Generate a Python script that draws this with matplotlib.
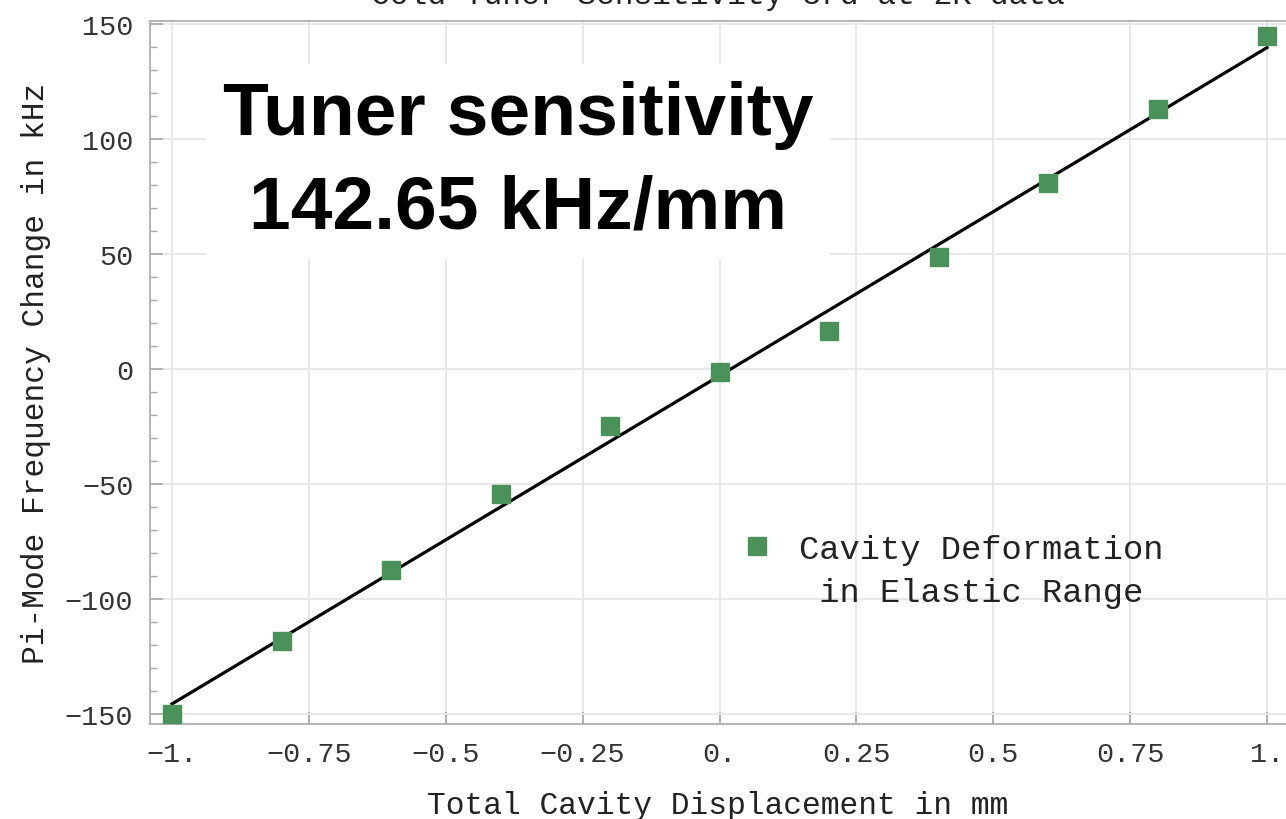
import numpy as np
import matplotlib
matplotlib.use("Agg")
import matplotlib.pyplot as plt
from matplotlib.lines import Line2D
from matplotlib.ticker import MultipleLocator, FixedLocator

# Data
displacement_mm = [-1.0, -0.8, -0.6, -0.4, -0.2, 0.0, 0.2, 0.4, 0.6, 0.8, 1.0]
freq_change_khz = [-150.0, -118.3, -87.4, -54.3, -24.8, -1.2, 16.5, 48.7, 80.9, 113.0, 144.8]

sensitivity_khz_per_mm = 142.65
x_ticks = [-1.0, -0.75, -0.5, -0.25, 0.0, 0.25, 0.5, 0.75, 1.0]
x_tick_labels = ["\u22121.", "\u22120.75", "\u22120.5", "\u22120.25", "0.", "0.25", "0.5", "0.75", "1."]
y_ticks = [-150, -100, -50, 0, 50, 100, 150]
y_tick_labels = ["\u2212150", "\u2212100", "\u221250", "0", "50", "100", "150"]

mono = "Liberation Mono"
green = "#4a9259"
gray = "#a8a8a8"

fig = plt.figure(figsize=(12.86, 8.2), dpi=100)
ax = fig.add_axes([150 / 1286, 1 - 725 / 820, 1 - 150 / 1286, (725 - 22) / 820])

x = np.array(displacement_mm)
y = np.array(freq_change_khz)

# linear fit with the quoted slope, offset from the data mean
intercept = y.mean() - sensitivity_khz_per_mm * x.mean()
xf = np.array([x.min(), x.max()])
ax.plot(xf, sensitivity_khz_per_mm * xf + intercept, color="black", lw=2.3, zorder=3)
ax.plot(x, y, ls="none", marker="s", ms=13, color=green, zorder=4, clip_on=False)

ax.set_xlim(-1.0402, 1.0347)
ax.set_ylim(-154.3, 151.3)

ax.xaxis.set_major_locator(FixedLocator(x_ticks))
ax.set_xticklabels(x_tick_labels)
ax.yaxis.set_major_locator(FixedLocator(y_ticks))
ax.set_yticklabels(y_tick_labels)
ax.yaxis.set_minor_locator(MultipleLocator(10))

ax.grid(True, which="major", color="#e6e6e6", lw=1.3, zorder=0)
ax.tick_params(which="both", direction="in", color=gray, labelcolor="#333333",
               labelsize=20.5, right=False, top=False)
ax.tick_params(which="major", length=9, width=1.2, pad=12)
ax.tick_params(which="minor", length=5, width=1.0)
for lab in ax.get_xticklabels() + ax.get_yticklabels():
    lab.set_family(mono)

for side in ["left", "bottom", "top"]:
    ax.spines[side].set_color(gray)
    ax.spines[side].set_linewidth(1.2)
ax.spines["right"].set_visible(False)

ax.set_xlabel("Total Cavity Displacement in mm", family=mono, fontsize=22.5,
              color="#222222", labelpad=17)
ax.set_ylabel("Pi-Mode Frequency Change in kHz", family=mono, fontsize=22.5,
              color="#222222", labelpad=10)

# clipped plot title at the very top edge
fig.text(0.558, 1 - 4 / 820, "Cold Tuner Sensitivity 3rd at 2K data", family=mono,
         fontsize=22.5, color="#222222", ha="center", va="baseline")

# big annotation on a white patch
ax.text(0.324, 0.80, "Tuner sensitivity\n%.2f kHz/mm" % sensitivity_khz_per_mm,
        transform=ax.transAxes, ha="center", va="center", fontsize=54,
        fontweight="bold", family="Liberation Sans", linespacing=1.45, zorder=5,
        bbox=dict(facecolor="white", edgecolor="none", pad=12))

handle = Line2D([], [], ls="none", marker="s", ms=13, color=green)
leg = ax.legend([handle], ["Cavity Deformation\n in Elastic Range"],
                loc="center left", bbox_to_anchor=(0.493, 0.218), frameon=False,
                prop={"family": mono, "size": 24.3}, labelcolor="#222222",
                handletextpad=0.75, handlelength=1.0)
leg.get_texts()[0].set_linespacing(1.5)
for col in leg._legend_handle_box.get_children():
    for row in col.get_children():
        row.align = "top"

fig.savefig("out.png", dpi=100)
